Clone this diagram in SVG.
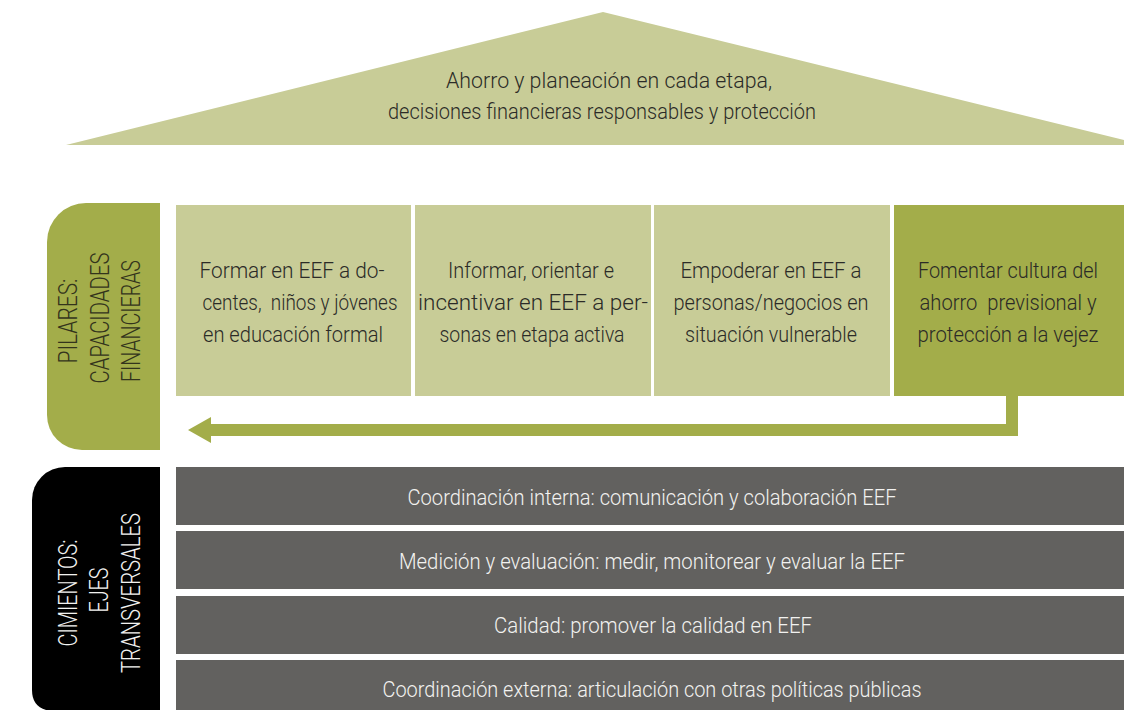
<svg xmlns="http://www.w3.org/2000/svg" width="1124" height="710" viewBox="0 0 1124 710">
<style>
.t{font-family:"Liberation Sans Narrow","Roboto","Liberation Sans",sans-serif;font-weight:300;font-size:22px;text-anchor:middle;white-space:pre}
.v{font-size:25px}
.dk{fill:#2b2b27}
.wt{fill:#f2f2f0}
.lbl{fill:#33341c}
</style>
<rect width="1124" height="710" fill="#ffffff"/>
<g id="roof">
<polygon points="603,12 1124,140 1124,145 66,145" fill="#c8cc97"/>
<text class="t dk" x="609" y="88" textLength="326" lengthAdjust="spacingAndGlyphs">Ahorro y planeación en cada etapa,</text>
<text class="t dk" x="602" y="119" textLength="428" lengthAdjust="spacingAndGlyphs">decisiones financieras responsables y protección</text>
</g>
<g id="pilares-label">
<path d="M47 242 A39 39 0 0 1 86 203 L160 203 L160 450 L82 450 A35 35 0 0 1 47 415 Z" fill="#a3ad4a"/>
<g transform="translate(77,321) rotate(-90)"><text class="t v lbl" x="0" y="0" textLength="85" lengthAdjust="spacingAndGlyphs">PILARES:</text></g>
<g transform="translate(109,318) rotate(-90)"><text class="t v lbl" x="0" y="0" textLength="131" lengthAdjust="spacingAndGlyphs">CAPACIDADES</text></g>
<g transform="translate(140,321) rotate(-90)"><text class="t v lbl" x="0" y="0" textLength="122" lengthAdjust="spacingAndGlyphs">FINANCIERAS</text></g>
</g>
<g id="pilar1">
<rect x="176" y="205" width="235" height="191" fill="#c8cc97"/>
<text class="t dk" x="292" y="278" textLength="185" lengthAdjust="spacingAndGlyphs">Formar en EEF a do-</text>
<text class="t dk" x="300" y="310" textLength="195" lengthAdjust="spacingAndGlyphs">centes,  niños y jóvenes</text>
<text class="t dk" x="293" y="342" textLength="180" lengthAdjust="spacingAndGlyphs">en educación formal</text>
</g>
<g id="pilar2">
<rect x="415" y="205" width="236" height="191" fill="#c8cc97"/>
<text class="t dk" x="531" y="278" textLength="166" lengthAdjust="spacingAndGlyphs">Informar, orientar e</text>
<text class="t dk" x="533" y="310" textLength="230" lengthAdjust="spacingAndGlyphs">incentivar en EEF a per-</text>
<text class="t dk" x="532" y="342" textLength="185" lengthAdjust="spacingAndGlyphs">sonas en etapa activa</text>
</g>
<g id="pilar3">
<rect x="654" y="205" width="236" height="191" fill="#c8cc97"/>
<text class="t dk" x="771" y="278" textLength="181" lengthAdjust="spacingAndGlyphs">Empoderar en EEF a</text>
<text class="t dk" x="771" y="310" textLength="195" lengthAdjust="spacingAndGlyphs">personas/negocios en</text>
<text class="t dk" x="771" y="342" textLength="172" lengthAdjust="spacingAndGlyphs">situación vulnerable</text>
</g>
<g id="pilar4">
<rect x="894" y="205" width="230" height="191" fill="#a3ad4a"/>
<text class="t dk" x="1008" y="278" textLength="180" lengthAdjust="spacingAndGlyphs">Fomentar cultura del</text>
<text class="t dk" x="1008" y="310" textLength="177" lengthAdjust="spacingAndGlyphs">ahorro  previsional y</text>
<text class="t dk" x="1008" y="342" textLength="181" lengthAdjust="spacingAndGlyphs">protección a la vejez</text>
</g>
<g id="connectors">
<path d="M1018 396 L1018 436 L211 436 L211 443 L188 430 L211 417 L211 424 L1006 424 L1006 396 Z" fill="#a3ad4a"/>
</g>
<g id="cimientos-label">
<path d="M32 500 A33 33 0 0 1 65 467 L160 467 L160 710 L46 710 Q32 706 32 690 Z" fill="#000000"/>
<g transform="translate(77,593) rotate(-90)"><text class="t v wt" x="0" y="0" textLength="107" lengthAdjust="spacingAndGlyphs">CIMIENTOS:</text></g>
<g transform="translate(108,590) rotate(-90)"><text class="t v wt" x="0" y="0" textLength="45" lengthAdjust="spacingAndGlyphs">EJES</text></g>
<g transform="translate(140,593) rotate(-90)"><text class="t v wt" x="0" y="0" textLength="160" lengthAdjust="spacingAndGlyphs">TRANSVERSALES</text></g>
</g>
<g id="eje1">
<rect x="176" y="467" width="948" height="58" fill="#62615f"/>
<text class="t wt" x="652" y="505" textLength="489" lengthAdjust="spacingAndGlyphs">Coordinación interna: comunicación y colaboración EEF</text>
</g>
<g id="eje2">
<rect x="176" y="531" width="948" height="58" fill="#62615f"/>
<text class="t wt" x="652" y="569" textLength="506" lengthAdjust="spacingAndGlyphs">Medición y evaluación: medir, monitorear y evaluar la EEF</text>
</g>
<g id="eje3">
<rect x="176" y="596" width="948" height="58" fill="#62615f"/>
<text class="t wt" x="653" y="633" textLength="318" lengthAdjust="spacingAndGlyphs">Calidad: promover la calidad en EEF</text>
</g>
<g id="eje4">
<rect x="176" y="660" width="948" height="50" fill="#62615f"/>
<text class="t wt" x="652" y="697" textLength="539" lengthAdjust="spacingAndGlyphs">Coordinación externa: articulación con otras políticas públicas</text>
</g>
</svg>
